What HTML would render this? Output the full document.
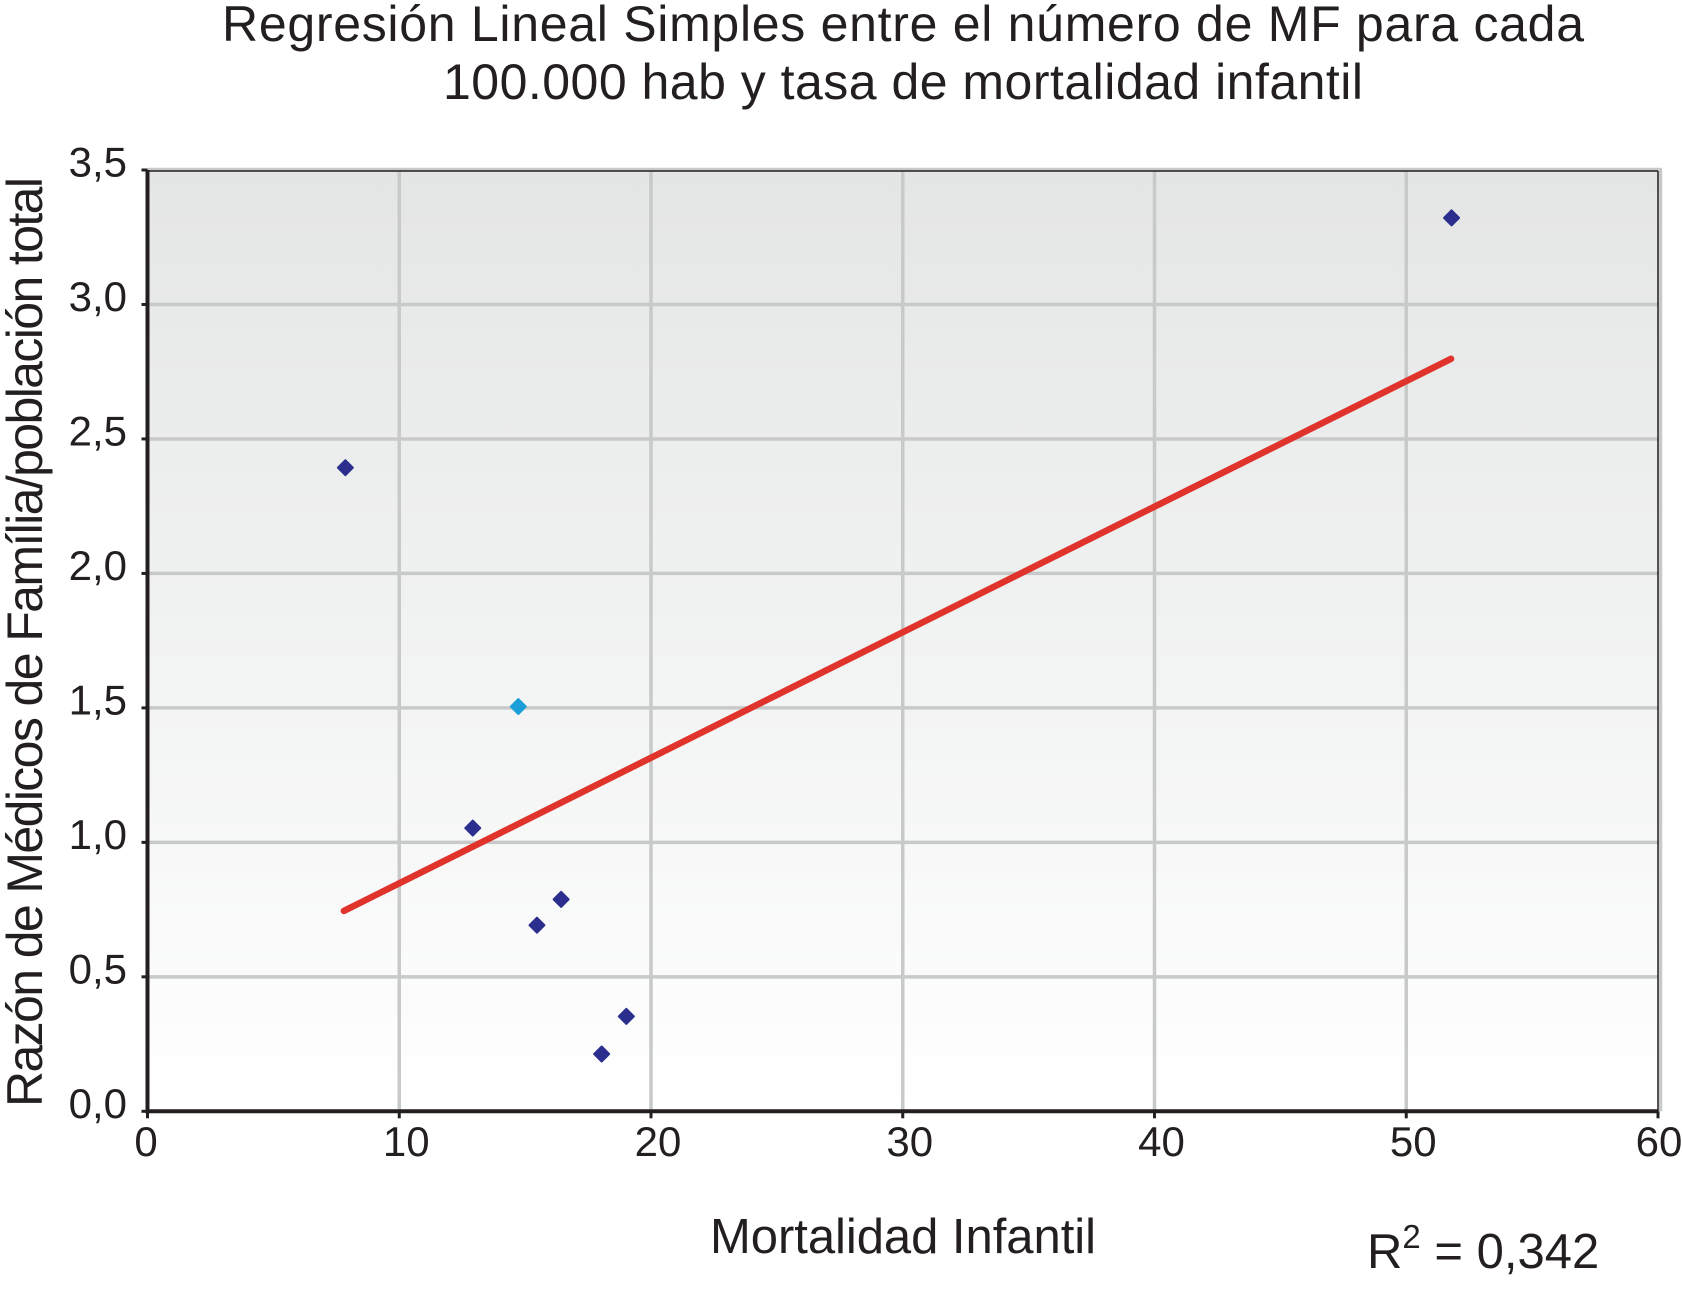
<!DOCTYPE html>
<html lang="es">
<head>
<meta charset="utf-8">
<title>Regresión Lineal Simples</title>
<style>
html,body{margin:0;padding:0;background:#fff;}
svg{display:block;}
text{font-family:"Liberation Sans",sans-serif;fill:#231f20;}
</style>
</head>
<body>
<svg id="chart" xmlns="http://www.w3.org/2000/svg" width="1682" height="1291" viewBox="0 0 1682 1291">
  <defs>
    <linearGradient id="bg" x1="0" y1="0" x2="0" y2="1">
      <stop offset="0" stop-color="#e4e5e5"/>
      <stop offset="0.45" stop-color="#f0f1f1"/>
      <stop offset="1" stop-color="#ffffff"/>
    </linearGradient>
  </defs>
  <text x="222" y="41" font-size="50" textLength="1362" lengthAdjust="spacing">Regresión Lineal Simples entre el número de MF para cada</text>
  <text x="443" y="99" font-size="50" textLength="920" lengthAdjust="spacing">100.000 hab y tasa de mortalidad infantil</text>
  <text transform="translate(42,1107) rotate(-90)" font-size="50" textLength="930" lengthAdjust="spacing">Razón de Médicos de Família/población total</text>
  <text x="710" y="1253" font-size="49" textLength="386" lengthAdjust="spacing">Mortalidad Infantil</text>
  <text x="1367" y="1268" font-size="49">R<tspan font-size="33" dy="-20">2</tspan><tspan dy="20"> = 0,342</tspan></text>
  <g id="plot"></g>
</svg>
<script>
const xTicks = [0, 10, 20, 30, 40, 50, 60];
const xTickLabels = ["0", "10", "20", "30", "40", "50", "60"];
const yTicks = [0, 0.5, 1, 1.5, 2, 2.5, 3, 3.5];
const yTickLabels = ["0,0", "0,5", "1,0", "1,5", "2,0", "2,5", "3,0", "3,5"];
const pointsX = [7.86, 51.8, 12.92, 16.43, 15.47, 19.02, 18.04];
const pointsY = [2.393, 3.322, 1.053, 0.788, 0.692, 0.353, 0.213];
const highlightX = [14.73];
const highlightY = [1.505];
const trendX = [7.8, 51.78];
const trendY = [0.745, 2.798];

const NS = "http://www.w3.org/2000/svg";
const plot = document.getElementById("plot");
const sx = v => 147.5 + (v - 0) * (1658 - 147.5) / 60;
const sy = v => 1111.3 - (v - 0) * (1111.3 - 170) / 3.5;
function mk(tag, attrs, text) {
  const el = document.createElementNS(NS, tag);
  for (const k in attrs) el.setAttribute(k, attrs[k]);
  if (text !== undefined) el.textContent = text;
  plot.appendChild(el);
  return el;
}
let el;

el = mk("rect", {x: sx(0), y: sy(3.5), width: sx(60) - sx(0), height: sy(0) - sy(3.5), fill: "url(#bg)"});



xTicks.forEach((t, i) => {
  if (t > 0) {
    const xg = i === xTicks.length - 1 ? sx(t) + 2.5 : sx(t);
    el = mk("line", {x1: xg, x2: xg, y1: sy(3.5), y2: sy(0), stroke: "#c8c9c9", "stroke-width": 3.5});
    
    
  }
  el = mk("line", {x1: sx(t), x2: sx(t), y1: sy(0), y2: sy(0) + 7, stroke: "#231f20", "stroke-width": 3});
  
  
  const labelShift = i === 0 ? -1.5 : (i === xTicks.length - 1 ? 1 : 7);
  el = mk("text", {x: sx(t) + labelShift, y: 1156, "font-size": 42, "text-anchor": "middle"}, xTickLabels[i]);
  
  
});

yTicks.forEach((t, i) => {
  if (t > 0) {
    const yg = i === yTicks.length - 1 ? sy(t) - 0.5 : sy(t);
    el = mk("line", {x1: sx(0), x2: sx(60) + 4, y1: yg, y2: yg, stroke: "#c8c9c9", "stroke-width": 3.5});
    
    
  }
  el = mk("line", {x1: sx(0) - 6, x2: sx(0), y1: sy(t), y2: sy(t), stroke: "#231f20", "stroke-width": 3});
  
  
  el = mk("text", {x: 127, y: sy(t) + 6.5, "font-size": 42, "text-anchor": "end"}, yTickLabels[i]);
  
  
});

el = mk("line", {x1: sx(0), x2: sx(60), y1: sy(3.5) + 1, y2: sy(3.5) + 1, stroke: "#231f20", "stroke-width": 1.5});


el = mk("line", {x1: sx(60), x2: sx(60), y1: sy(3.5) + 1, y2: sy(0), stroke: "#231f20", "stroke-width": 1.5});


el = mk("line", {x1: sx(0), x2: sx(0), y1: sy(3.5), y2: sy(0) + 2, stroke: "#231f20", "stroke-width": 4});


el = mk("line", {x1: sx(0), x2: sx(60), y1: sy(0), y2: sy(0), stroke: "#231f20", "stroke-width": 4});



el = mk("line", {x1: sx(trendX[0]), y1: sy(trendY[0]), x2: sx(trendX[1]), y2: sy(trendY[1]), stroke: "#e0332b", "stroke-width": 6.5, "stroke-linecap": "round"});



function diamond(cx, cy, r, fill) {
  return mk("path", {d: `M${cx} ${cy - r}L${cx + r} ${cy}L${cx} ${cy + r}L${cx - r} ${cy}Z`, fill: fill, stroke: fill, "stroke-width": 2, "stroke-linejoin": "round"});
}
pointsX.forEach((v, i) => {
  el = diamond(sx(v), sy(pointsY[i]), 7.5, "#2b2e8c");
  
  
});
highlightX.forEach((v, i) => {
  el = diamond(sx(v), sy(highlightY[i]), 7.5, "#1a9fd8");
  
  
});
</script>
</body>
</html>
